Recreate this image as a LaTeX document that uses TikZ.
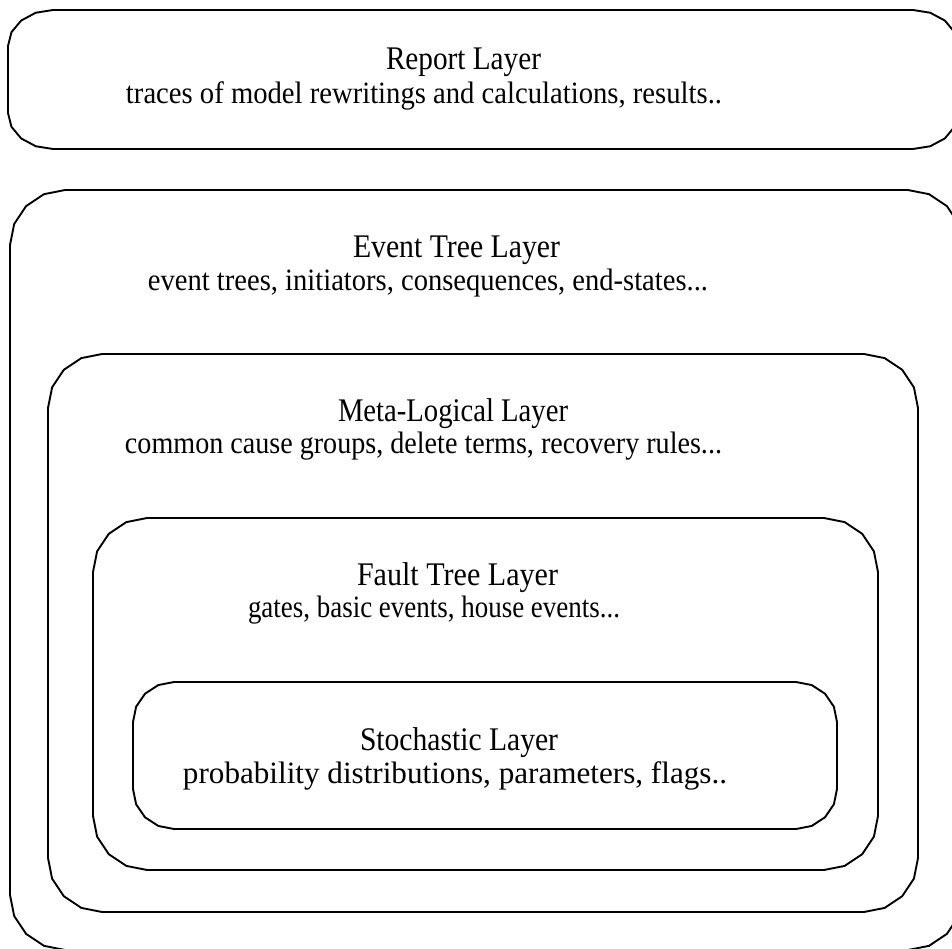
\documentclass[tikz,border=0pt]{standalone}
\usepackage{fontspec}
\setmainfont{Liberation Serif}
\usepackage{graphicx}
\tikzset{
  boxline/.style={line width=1.9pt, line join=round},
  ttl/.style={inner sep=0pt, anchor=base},
  subline/.style={inner sep=0pt, anchor=base},
}
\newcommand\ttltext[2]{\resizebox{#1pt}{\height}{\fontsize{33}{33}\selectfont #2}}
\newcommand\subtext[2]{\resizebox{#1pt}{\height}{\fontsize{31}{31}\selectfont #2}}
% #1=x1 #2=y1 #3=x2 #4=y2 #5=rx #6=ry
\newcommand\facetbox[6]{%
\draw[boxline] (#1+#5,#2) -- (#3-#5,#2)
 -- (#3-#5+0.3827*#5, #2+#6-0.9239*#6)
 -- (#3-#5+0.7071*#5, #2+#6-0.7071*#6)
 -- (#3-#5+0.9239*#5, #2+#6-0.3827*#6)
 -- (#3,#2+#6) -- (#3,#4-#6)
 -- (#3-#5+0.9239*#5, #4-#6+0.3827*#6)
 -- (#3-#5+0.7071*#5, #4-#6+0.7071*#6)
 -- (#3-#5+0.3827*#5, #4-#6+0.9239*#6)
 -- (#3-#5,#4) -- (#1+#5,#4)
 -- (#1+#5-0.3827*#5, #4-#6+0.9239*#6)
 -- (#1+#5-0.7071*#5, #4-#6+0.7071*#6)
 -- (#1+#5-0.9239*#5, #4-#6+0.3827*#6)
 -- (#1,#4-#6) -- (#1,#2+#6)
 -- (#1+#5-0.9239*#5, #2+#6-0.3827*#6)
 -- (#1+#5-0.7071*#5, #2+#6-0.7071*#6)
 -- (#1+#5-0.3827*#5, #2+#6-0.9239*#6)
 -- cycle;}
\begin{document}
\begin{tikzpicture}[x=1pt,y=-1pt]
\useasboundingbox (0,0) rectangle (952,949);
\clip (0,0) rectangle (952,949);
% boxes
\facetbox{8}{10}{958}{149}{45}{36}
\facetbox{10}{190}{963}{950}{55}{55}
\facetbox{48}{354}{918}{912}{54}{54}
\facetbox{93}{518}{878}{870}{54}{54}
\facetbox{133}{682}{837}{829}{41}{40}
% texts
\node[ttl] (reportT) at (463.5,70) {\ttltext{155}{Report Layer}};
\node[subline] (reportS) at (424,104) {\subtext{596}{traces of model rewritings and calculations, results..}};
\node[ttl] (eventT) at (456.5,258) {\ttltext{207}{Event Tree Layer}};
\node[subline] (eventS) at (428,291) {\subtext{560}{event trees, initiators, consequences, end-states...}};
\node[ttl] (metaT) at (453,421) {\ttltext{230}{Meta-Logical Layer}};
\node[subline] (metaS) at (423.5,453) {\subtext{597}{common cause groups, delete terms, recovery rules...}};
\node[ttl] (faultT) at (457.5,585) {\ttltext{201}{Fault Tree Layer}};
\node[subline] (faultS) at (434,617) {\subtext{372}{gates, basic events, house events...}};
\node[ttl] (stochT) at (459,750) {\ttltext{198}{Stochastic Layer}};
\node[subline] (stochS) at (455,783) {\subtext{544}{probability distributions, parameters, flags..}};
\end{tikzpicture}
\end{document}
